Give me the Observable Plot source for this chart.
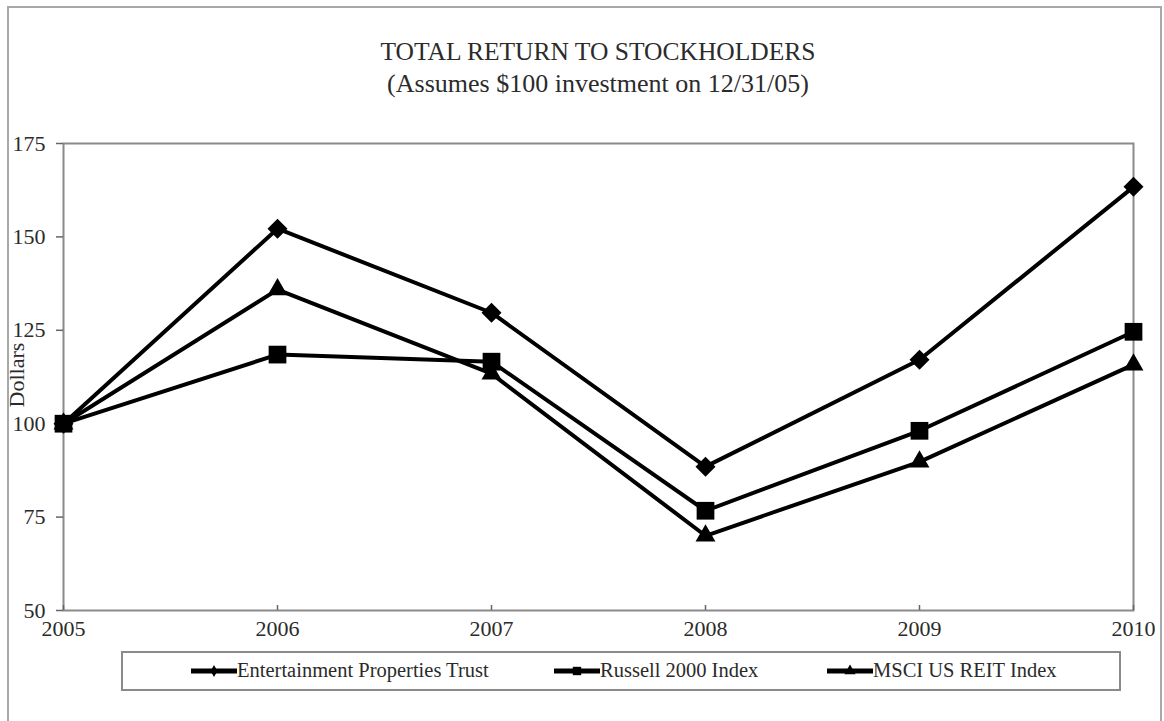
<!DOCTYPE html>
<html>
<head>
<meta charset="utf-8">
<script src="https://cdn.jsdelivr.net/npm/d3@7"></script>
<script src="https://cdn.jsdelivr.net/npm/@observablehq/plot@0.6"></script>
<style>
  html, body { margin: 0; padding: 0; background: #fff; }
  #wrap { position: relative; width: 1164px; height: 721px; overflow: hidden; font-family: 'Liberation Serif', 'DejaVu Serif', 'Times New Roman', serif; color: #2b2b2b; }
  #page { position: absolute; left: 7px; top: 6px; width: 1151px; height: 760px; border: 2px solid #a8a8a8; }
  #chart { position: absolute; left: 0; top: 0; }
  .title { position: absolute; left: 0; width: 1164px; text-align: center; padding-left: 32px; box-sizing: border-box; line-height: 30px; }
  #t1 { top: 37px; font-size: 25.5px; }
  #t2 { top: 69px; font-size: 26px; }
  #ylab { position: absolute; left: 17px; top: 375px; font-size: 22px; transform: translate(-50%, -50%) rotate(-90deg); white-space: nowrap; }
  #legend { position: absolute; left: 121px; top: 651px; width: 996px; height: 36px; border: 2px solid #8a8a8a; }
  .item { position: absolute; top: 6px; font-size: 20.5px; display: flex; align-items: center; white-space: nowrap; }
  .item svg { display: block; }
</style>
</head>
<body>
<div id="wrap">
  <div id="page"></div>
  <div id="chart"></div>
  <div class="title" id="t1">TOTAL RETURN TO STOCKHOLDERS</div>
  <div class="title" id="t2">(Assumes $100 investment on 12/31/05)</div>
  <div id="ylab">Dollars</div>
  <div id="legend"></div>
</div>
<script>
const years = [2005, 2006, 2007, 2008, 2009, 2010];
const seriesNames = ["Entertainment Properties Trust", "Russell 2000 Index", "MSCI US REIT Index"];
const eprValues = [100, 152.2, 129.7, 88.5, 117.1, 163.4];
const russellValues = [100, 118.5, 116.6, 76.7, 98.1, 124.6];
const msciValues = [100, 135.9, 113.4, 70.0, 89.8, 115.8];
const yTicks = [50, 75, 100, 125, 150, 175];

const seriesValues = [eprValues, russellValues, msciValues];
const symbols = ["diamond2", "square", "triangle"];
const symbolR = [9, 10, 7.4];

const data = seriesNames.flatMap((name, i) =>
  years.map((year, j) => ({series: name, year, value: seriesValues[i][j]}))
);

const plot = Plot.plot({
  width: 1164,
  height: 721,
  marginLeft: 63,
  marginRight: 31,
  marginTop: 143,
  marginBottom: 111,
  style: {fontFamily: "'Liberation Serif', 'DejaVu Serif', 'Times New Roman', serif", fontSize: "22px", color: "#2b2b2b", background: "transparent"},
  x: {domain: [2005, 2010]},
  y: {domain: [50, 175]},
  marks: [
    Plot.frame({stroke: "#8a8a8a", strokeWidth: 2}),
    Plot.axisY({ticks: yTicks, tickSize: 7, tickPadding: 11, label: null, stroke: "#666", strokeWidth: 1.5}),
    Plot.axisX({ticks: years, tickFormat: d => String(d), tickSize: -5, tickPadding: 15, label: null, stroke: "#666", strokeWidth: 1.5}),
    Plot.line(data, {x: "year", y: "value", z: "series", stroke: "black", strokeWidth: 4}),
    ...seriesNames.map((name, i) =>
      Plot.dot(data.filter(d => d.series === name), {x: "year", y: "value", symbol: () => symbols[i], fill: "black", r: symbolR[i]})
    )
  ],
  symbol: {type: "identity"}
});
document.getElementById("chart").appendChild(plot);

// legend
const legendX = [67, 430, 703];
const legendSym = [d3.symbolDiamond, d3.symbolSquare, d3.symbolTriangle];
const legendSize = [40, 70, 55];
const legend = d3.select("#legend");
seriesNames.forEach((name, i) => {
  const item = legend.append("div").attr("class", "item").style("left", legendX[i] + "px");
  const svg = item.append("svg").attr("width", 47).attr("height", 20);
  svg.append("line").attr("x1", 1).attr("x2", 47).attr("y1", 10).attr("y2", 10).attr("stroke", "black").attr("stroke-width", 5);
  svg.append("path").attr("d", d3.symbol(legendSym[i], legendSize[i])()).attr("transform", "translate(24,10)").attr("fill", "black");
  item.append("span").text(name);
});
</script>
</body>
</html>
